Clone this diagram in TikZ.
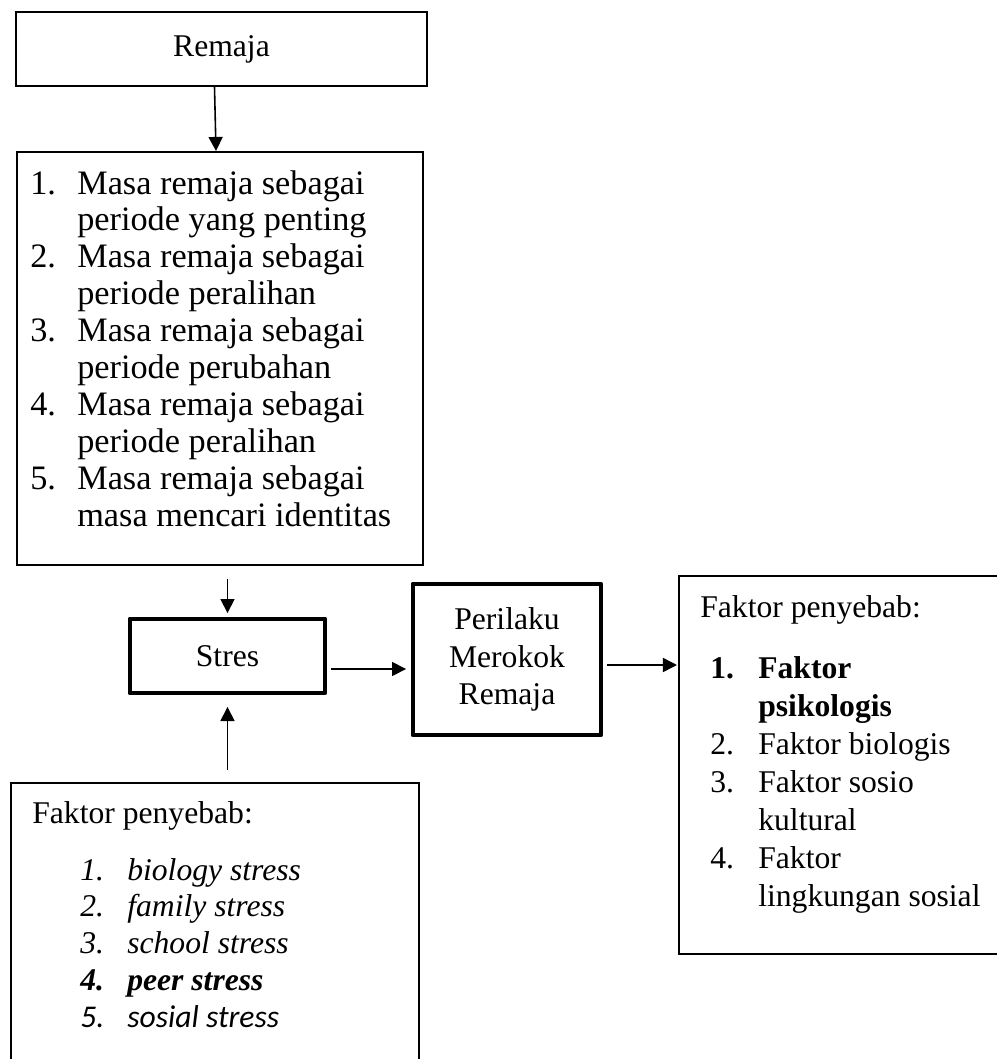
\documentclass[tikz,border=0pt]{standalone}
\usepackage{fontspec}
\setmainfont{Liberation Serif}
\newfontfamily\carlito{Carlito}
\usetikzlibrary{arrows.meta}

\begin{document}
\begin{tikzpicture}[x=0.02cm, y=-0.02cm,
            box/.style = {draw, line width=1.2pt, inner sep=0pt},
            boldbox/.style = {draw, line width=2.8pt, line join=round,
                        inner sep=0pt, align=center},
            arr/.style = {line width=0.9pt, -{Triangle[length=8pt,width=8pt]}},
            txt/.style = {anchor=base west, inner sep=0pt},
            every node/.style = {font=\fontsize{18}{21.5}\selectfont}]
            \useasboundingbox (0,0) rectangle (997,1059);
            \clip (0,0) rectangle (997,1059);
            % Remaja
            \node[box, minimum width=8.22cm, minimum height=1.48cm] (remaja) at (221.5,49) {Remaja};
            % Masa remaja
            \node[box, minimum width=8.12cm, minimum height=8.26cm] (masa) at (220,358.5) {};
            \node[txt] (masatext) at (30,194) {\fontsize{19.5}{21}\selectfont
                \begin{tabular}[t]{@{}p{0.94cm}@{}l@{}}
                1. & Masa remaja sebagai\\
                   & periode yang penting\\
                2. & Masa remaja sebagai\\
                   & periode peralihan\\
                3. & Masa remaja sebagai\\
                   & periode perubahan\\
                4. & Masa remaja sebagai\\
                   & periode peralihan\\
                5. & Masa remaja sebagai\\
                   & masa mencari identitas
                \end{tabular}};
            % Stres and perilaku
            \node[boldbox, minimum width=3.9cm, minimum height=1.48cm] (stres) at (227.5,656) {Stres};
            \node[boldbox, minimum width=3.76cm, minimum height=3.02cm] (perilaku) at (507,659.5) {Perilaku\\Merokok\\Remaja};
            % Faktor penyebab, right
            \node[box, minimum width=6.82cm, minimum height=7.56cm] (faktorB) at (849.5,765) {};
            \node[txt] (faktorBtitle) at (700,617) {Faktor penyebab:};
            \node[txt] (faktorBtext) at (710,678) {\fontsize{18}{21.7}\selectfont
                \begin{tabular}[t]{@{}p{0.96cm}@{}l@{}}
                \textbf{1.} & \textbf{Faktor}\\
                   & \textbf{psikologis}\\
                2. & Faktor biologis\\
                3. & Faktor sosio\\
                   & kultural\\
                4. & Faktor\\
                   & lingkungan sosial
                \end{tabular}};
            % Faktor penyebab, bottom
            \node[box, minimum width=8.16cm, minimum height=5.94cm] (faktorA) at (215,931.5) {};
            \node[txt] (faktorAtitle) at (32,823) {Faktor penyebab:};
            \node[txt] (faktorAtext) at (80,880) {\fontsize{18}{21}\selectfont
                \begin{tabular}[t]{@{}p{0.94cm}@{}l@{}}
                \textit{1.} & \textit{biology stress}\\
                \textit{2.} & \textit{family stress}\\
                \textit{3.} & \textit{school stress}\\
                \textbf{\textit{4.}} & \textbf{\textit{peer stress}}\\
                {\carlito\itshape 5.} & {\carlito\itshape sosial stress}
                \end{tabular}};
            % Arrows
            \draw[arr] ([xshift=-0.14cm]remaja.south) -- ([xshift=-0.08cm]masa.north);
            \draw[arr, shorten <=0.26cm, shorten >=0.07cm] (masa.south -| stres.north) -- (stres.north);
            \draw[arr, shorten <=0.24cm, shorten >=0.23cm] (faktorA.north -| stres.south) -- (stres.south);
            \draw[arr, shorten <=0.07cm, shorten >=0.09cm] ([yshift=-0.26cm]stres.east) -- ([yshift=-0.26cm]stres.east -| perilaku.west);
            \draw[arr, shorten <=0.07cm, shorten >=0.02cm] ([yshift=-0.11cm]perilaku.east) -- ([yshift=-0.11cm]perilaku.east -| faktorB.west);
        \end{tikzpicture}
\end{document}
